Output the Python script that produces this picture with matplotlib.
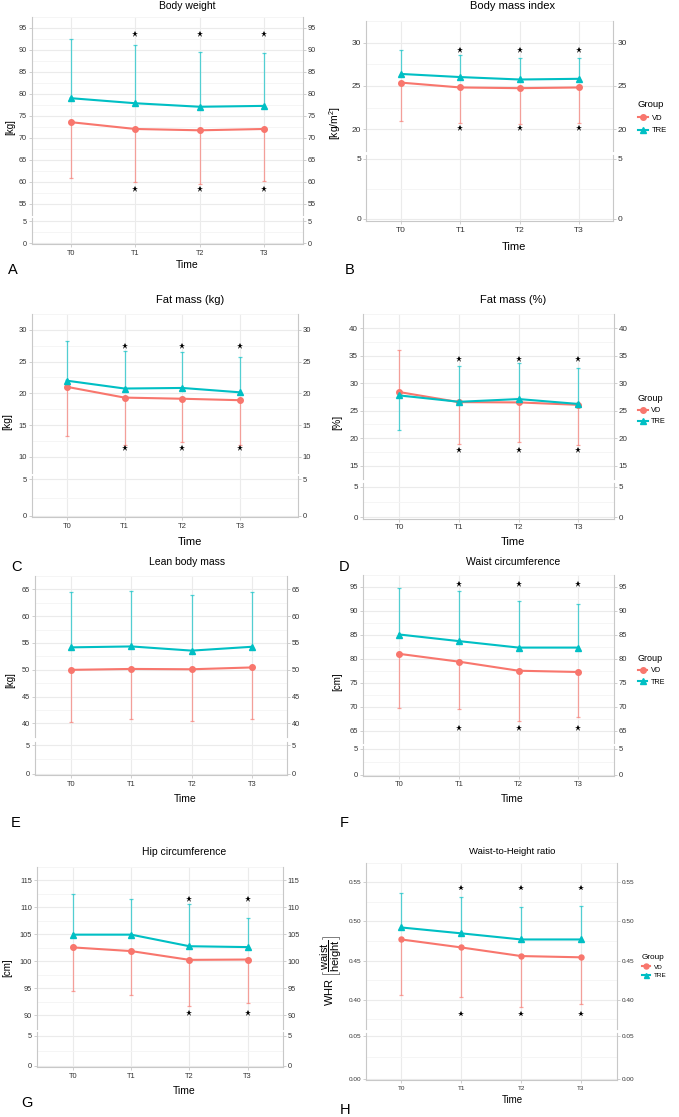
import matplotlib
matplotlib.use('Agg')
import matplotlib.pyplot as plt
import numpy as np
from matplotlib.lines import Line2D

plt.rcParams['font.family'] = ['Liberation Sans', 'DejaVu Sans']
plt.rcParams['mathtext.fontset'] = 'custom'
plt.rcParams['mathtext.rm'] = 'Liberation Sans'
plt.rcParams['mathtext.it'] = 'Liberation Sans:italic'

W, H = 679, 1117
fig = plt.figure(figsize=(W / 100, H / 100), dpi=100)

# ---------------- data ----------------
time_labels = ['T0', 'T1', 'T2', 'T3']
group_names = ['VD', 'TRE']
group_colors = ['#F8766D', '#00BFC4']
group_markers = ['o', '^']
nan = np.nan

# A Body weight
bw_vd = [73.6, 72.05, 71.75, 72.05]
bw_vd_err = [60.85, 59.95, 59.6, 60.2]
bw_tre = [79.05, 77.9, 77.1, 77.3]
bw_tre_err = [92.6, 91.05, 89.65, 89.3]
bw_star_top = [nan, 93.6, 93.6, 93.6]
bw_star_bot = [nan, 58.5, 58.5, 58.5]
bw_ticks = [55, 60, 65, 70, 75, 80, 85, 90, 95]

# B BMI
bmi_vd = [25.39, 24.83, 24.75, 24.83]
bmi_vd_err = [21.0, 20.75, 20.67, 20.78]
bmi_tre = [26.39, 26.03, 25.75, 25.83]
bmi_tre_err = [29.2, 28.6, 28.2, 28.2]
bmi_star_top = [nan, 29.2, 29.2, 29.2]
bmi_star_bot = [nan, 20.2, 20.2, 20.2]
bmi_ticks = [20, 25, 30]

# C Fat mass (kg)
fmk_vd = [21.03, 19.33, 19.15, 18.92]
fmk_vd_err = [13.36, 11.9, 12.3, 11.9]
fmk_tre = [22.0, 20.76, 20.85, 20.16]
fmk_tre_err = [28.3, 26.7, 26.5, 25.77]
fmk_star_top = [nan, 27.4, 27.4, 27.4]
fmk_star_bot = [nan, 11.43, 11.43, 11.43]
fmk_ticks = [10, 15, 20, 25, 30]

# D Fat mass (%)
fmp_vd = [28.36, 26.53, 26.48, 26.04]
fmp_vd_err = [36.08, 18.9, 19.3, 18.7]
fmp_tre = [27.75, 26.59, 27.09, 26.2]
fmp_tre_err = [21.4, 33.05, 33.65, 32.77]
fmp_star_top = [nan, 34.37, 34.37, 34.37]
fmp_star_bot = [nan, 17.87, 17.87, 17.87]
fmp_ticks = [15, 20, 25, 30, 35, 40]

# E Lean body mass
lbm_vd = [49.98, 50.15, 50.09, 50.43]
lbm_vd_err = [40.17, 40.8, 40.45, 40.8]
lbm_tre = [54.18, 54.35, 53.57, 54.29]
lbm_tre_err = [64.44, 64.78, 63.88, 64.6]
lbm_star_top = [nan, nan, nan, nan]
lbm_star_bot = [nan, nan, nan, nan]
lbm_ticks = [40, 45, 50, 55, 60, 65]

# F Waist circumference
wc_vd = [81.04, 79.41, 77.52, 77.26]
wc_vd_err = [69.82, 69.43, 67.09, 67.87]
wc_tre = [85.08, 83.7, 82.35, 82.35]
wc_tre_err = [94.87, 94.09, 92.13, 91.54]
wc_star_top = [nan, 95.6, 95.6, 95.6]
wc_star_bot = [nan, 65.65, 65.65, 65.65]
wc_ticks = [65, 70, 75, 80, 85, 90, 95]

# G Hip circumference
hc_vd = [102.58, 101.9, 100.28, 100.34]
hc_vd_err = [94.6, 93.82, 91.69, 92.36]
hc_tre = [104.94, 104.94, 102.8, 102.64]
hc_tre_err = [112.53, 111.57, 110.56, 108.03]
hc_star_top = [nan, nan, 111.5, 111.5]
hc_star_bot = [nan, nan, 90.4, 90.4]
hc_ticks = [90, 95, 100, 105, 110, 115]

# H Waist-to-height ratio
whr_vd = [0.477, 0.4668, 0.4558, 0.4542]
whr_vd_err = [0.4059, 0.4035, 0.3906, 0.3941]
whr_tre = [0.4923, 0.4848, 0.477, 0.477]
whr_tre_err = [0.5363, 0.5312, 0.5186, 0.5194]
whr_star_top = [nan, 0.5429, 0.5429, 0.5429]
whr_star_bot = [nan, 0.3823, 0.3823, 0.3823]
whr_ticks = [0.40, 0.45, 0.50, 0.55]

GRID = '#EBEBEB'
MINOR = '#F4F4F4'
AXC = '#C8C8C8'
TXT = '#333333'


def box(L, R, top, bot):
    return [L / W, 1 - bot / H, (R - L) / W, (bot - top) / H]


def ftext(x, y, s, **kw):
    fig.text(x / W, 1 - y / H, s, ha=kw.pop('ha', 'center'), va=kw.pop('va', 'center'), **kw)


def style(ax, xl, yl, ticks, minor, tfs, fmt, lower):
    ax.set_xlim(*xl)
    ax.set_ylim(*yl)
    ax.set_facecolor('none')
    ax.set_yticks(ticks)
    ax.set_yticks(minor, minor=True)
    ax.set_yticklabels([fmt.format(t) for t in ticks])
    ax.set_xticks(range(len(time_labels)))
    ax.spines['top'].set_visible(False)
    for s in ['left', 'right']:
        ax.spines[s].set_color(AXC)
        ax.spines[s].set_linewidth(0.8)
    ax.grid(True, which='major', axis='y', color=GRID, lw=0.8, zorder=0)
    ax.grid(True, which='minor', axis='y', color=MINOR, lw=0.6, zorder=0)
    ax.tick_params(axis='y', which='major', left=True, right=True, labelleft=True,
                   labelright=True, length=2, width=0.6, color=AXC, labelsize=tfs,
                   labelcolor=TXT, pad=1.5)
    ax.tick_params(axis='y', which='minor', left=False, right=False)
    if lower:
        ax.spines['bottom'].set_color(AXC)
        ax.spines['bottom'].set_linewidth(0.8)
        ax.set_xticklabels(time_labels)
        ax.tick_params(axis='x', length=2, width=0.6, color=AXC, labelsize=tfs,
                       labelcolor=TXT, pad=2)
    else:
        ax.spines['bottom'].set_visible(False)
        ax.tick_params(axis='x', length=0, labelbottom=False)
    ax.set_axisbelow(True)


def panel(p):
    L, R = p['L'], p['R']
    xl = p['xl']
    bg = fig.add_axes(box(L, R, p['ut'], p['lb']), zorder=0)
    bg.set_xlim(*xl)
    bg.set_ylim(0, 1)
    bg.axis('off')
    bg.vlines(np.arange(len(time_labels)), 0, 1, color=GRID, lw=0.8)

    axu = fig.add_axes(box(L, R, p['ut'], p['ub']), zorder=1)
    axl = fig.add_axes(box(L, R, p['lt'], p['lb']), zorder=1)
    step = p['ticks'][1] - p['ticks'][0]
    uminor = [t + step / 2 for t in [p['ticks'][0] - step] + list(p['ticks'])]
    style(axu, xl, p['uy'], p['ticks'], uminor, p['tfs'], p['fmt'], False)
    lt = [0, p['lstep']]
    style(axl, xl, p['ly'], lt, [p['lstep'] / 2], p['tfs'], p['fmt'], True)

    x = np.arange(len(time_labels))
    for name, col, mk, mean, err in zip(group_names, group_colors, group_markers,
                                        [p['vd'], p['tre']], [p['vd_err'], p['tre_err']]):
        axu.vlines(x, mean, err, color=col, alpha=0.65, lw=0.9, zorder=2)
        axu.plot(x, err, ls='none', marker='_', ms=3.2, mew=0.9, color=col,
                 alpha=0.65, zorder=2)
        axu.plot(x, mean, color=col, lw=1.5, marker=mk,
                 ms=p['ms'] + (0.6 if mk == '^' else 0), zorder=3, label=name)
    axu.plot(x, p['st'], ls='none', marker='*', ms=p['sms'], color='black',
             mew=0, zorder=4)
    axu.plot(x, p['sb'], ls='none', marker='*', ms=p['sms'], color='black',
             mew=0, zorder=4)

    ftext(*p['title_xy'], p['title'], fontsize=p['tifs'], color='black')
    ftext(*p['time_xy'], 'Time', fontsize=p['tlfs'], color='black')
    ftext(*p['ylab_xy'], p['ylab'], fontsize=p.get('ylfs', p['tlfs'] - 0.5),
          rotation=90, color='black')
    ftext(*p['let_xy'], p['letter'], fontsize=10.5, color='black')

    if p.get('leg') is not None:
        lx, ly = p['leg']
        lh = [Line2D([0], [0], color=c, lw=1.5, marker=m, ms=p['ms'])
              for c, m in zip(group_colors, group_markers)]
        leg = fig.legend(lh, group_names, title='Group', loc='upper left',
                         bbox_to_anchor=(lx / W, 1 - ly / H), frameon=False,
                         fontsize=p['lfs'], title_fontsize=p['lfs'] + 1.3,
                         handlelength=1.3, handletextpad=0.5, borderpad=0,
                         borderaxespad=0, labelspacing=p['lsp'])
        leg._legend_box.align = 'left'


panels = [
    dict(letter='A', title='Body weight', ylab='[kg]', vd=bw_vd, vd_err=bw_vd_err,
         tre=bw_tre, tre_err=bw_tre_err, st=bw_star_top, sb=bw_star_bot, ticks=bw_ticks,
         L=32, R=303, ut=17, ub=215, lt=218, lb=244, uy=(53.2, 97.2), ly=(-0.2, 5.7),
         xl=(-0.6, 3.6), lstep=5, fmt='{:g}', tfs=5.2, tifs=7.5, tlfs=7.5, ms=4, sms=4.5,
         title_xy=(187, 6), time_xy=(187, 265), ylab_xy=(10, 127), let_xy=(13, 270)),
    dict(letter='B', title='Body mass index', ylab='[kg/m$^2$]', vd=bmi_vd,
         vd_err=bmi_vd_err, tre=bmi_tre, tre_err=bmi_tre_err, st=bmi_star_top,
         sb=bmi_star_bot, ticks=bmi_ticks,
         L=366, R=613, ut=21, ub=151, lt=155, lb=221, uy=(19.6, 30.3), ly=(-0.2, 5.3),
         xl=(-0.59, 3.57), lstep=5, fmt='{:g}', tfs=6, tifs=8, tlfs=8, ms=4, sms=4.5,
         title_xy=(513, 6), time_xy=(514, 247), ylab_xy=(335, 123), let_xy=(350, 270),
         leg=(638, 100), lfs=5.5, lsp=0.7),
    dict(letter='C', title='Fat mass (kg)', ylab='[kg]', vd=fmk_vd, vd_err=fmk_vd_err,
         tre=fmk_tre, tre_err=fmk_tre_err, st=fmk_star_top, sb=fmk_star_bot,
         ticks=fmk_ticks,
         L=32, R=298, ut=314, ub=472.7, lt=476, lb=517.3, uy=(9.13, 31.0),
         ly=(-0.18, 5.45), xl=(-0.6, 4.0), lstep=5, fmt='{:g}', tfs=5.5, tifs=8,
         tlfs=8, ms=4, sms=4.5,
         title_xy=(190, 300), time_xy=(190, 542), ylab_xy=(7, 422), let_xy=(16, 567)),
    dict(letter='D', title='Fat mass (%)', ylab='[%]', vd=fmp_vd, vd_err=fmp_vd_err,
         tre=fmp_tre, tre_err=fmp_tre_err, st=fmp_star_top, sb=fmp_star_bot,
         ticks=fmp_ticks,
         L=363, R=614, ut=314.3, ub=479.3, lt=482.7, lb=518.7, uy=(13.9, 41.2),
         ly=(-0.2, 5.65), xl=(-0.61, 3.6), lstep=5, fmt='{:g}', tfs=5.8, tifs=8,
         tlfs=8, ms=4, sms=4.5,
         title_xy=(513, 300), time_xy=(513, 542), ylab_xy=(337, 422), let_xy=(344, 567),
         leg=(638, 394), lfs=5.3, lsp=0.55),
    dict(letter='E', title='Lean body mass', ylab='[kg]', vd=lbm_vd, vd_err=lbm_vd_err,
         tre=lbm_tre, tre_err=lbm_tre_err, st=lbm_star_top, sb=lbm_star_bot,
         ticks=lbm_ticks,
         L=35, R=287, ut=576, ub=736.7, lt=741.7, lb=775, uy=(39.0, 66.0),
         ly=(-0.2, 5.6), xl=(-0.6, 3.58), lstep=5, fmt='{:g}', tfs=5.3, tifs=7.5,
         tlfs=7.5, ms=4, sms=4.5,
         title_xy=(187, 562), time_xy=(185, 799), ylab_xy=(10, 680), let_xy=(16, 823)),
    dict(letter='F', title='Waist circumference', ylab='[cm]', vd=wc_vd, vd_err=wc_vd_err,
         tre=wc_tre, tre_err=wc_tre_err, st=wc_star_top, sb=wc_star_bot, ticks=wc_ticks,
         L=363, R=614, ut=575, ub=742.7, lt=746, lb=775.7, uy=(63.7, 96.5),
         ly=(-0.2, 5.5), xl=(-0.61, 3.6), lstep=5, fmt='{:g}', tfs=5.5, tifs=7.5,
         tlfs=7.5, ms=4, sms=4.5,
         title_xy=(513, 562), time_xy=(512, 799), ylab_xy=(337, 682), let_xy=(344, 823),
         leg=(638, 654), lfs=5.2, lsp=0.6),
    dict(letter='G', title='Hip circumference', ylab='[cm]', vd=hc_vd, vd_err=hc_vd_err,
         tre=hc_tre, tre_err=hc_tre_err, st=hc_star_top, sb=hc_star_bot, ticks=hc_ticks,
         L=37, R=283, ut=866.7, ub=1029, lt=1031.7, lb=1067, uy=(88.9, 116.2),
         ly=(-0.2, 5.7), xl=(-0.62, 3.61), lstep=5, fmt='{:g}', tfs=5.3, tifs=7.5,
         tlfs=7.5, ms=4, sms=4.5,
         title_xy=(184, 852), time_xy=(184, 1091), ylab_xy=(7, 968), let_xy=(27, 1103)),
    dict(letter='H', title='Waist-to-Height ratio',
         ylab=r'WHR $\left[\dfrac{\mathrm{waist}}{\mathrm{height}}\right]$',
         vd=whr_vd, vd_err=whr_vd_err, tre=whr_tre, tre_err=whr_tre_err,
         st=whr_star_top, sb=whr_star_bot, ticks=whr_ticks,
         L=366, R=617, ut=862.7, ub=1029.3, lt=1032.7, lb=1080, uy=(0.3623, 0.5586),
         ly=(-0.0016, 0.0543), xl=(-0.59, 3.6), lstep=0.05, fmt='{:.2f}', tfs=4.6,
         tifs=6.8, tlfs=7, ms=3.6, sms=4, ylfs=8,
         title_xy=(512, 851), time_xy=(512, 1100), ylab_xy=(331, 971), let_xy=(345, 1110),
         leg=(642, 954), lfs=4.6, lsp=0.5),
]

for p in panels:
    panel(p)

fig.savefig('out.png', dpi=100, facecolor='white')
